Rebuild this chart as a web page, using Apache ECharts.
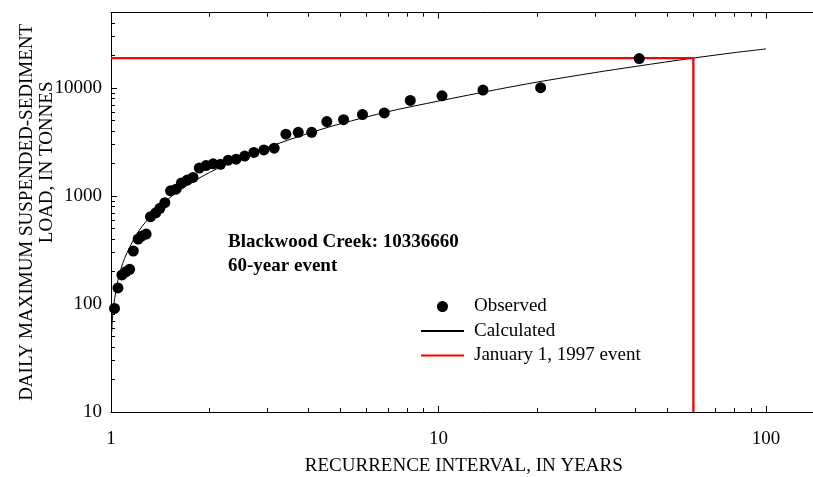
<!DOCTYPE html>
<html>
<head>
<meta charset="utf-8">
<script src="https://cdn.jsdelivr.net/npm/echarts@6/dist/echarts.min.js"></script>
<style>
  html, body { margin: 0; padding: 0; background: #fff; overflow: hidden; }
  /* The plot frame runs past the right edge of the page; the extra width is cropped. */
  #chart { width: 865px; height: 477px; }
</style>
</head>
<body>
<div id="chart"></div>
<script>
// Observed annual maxima: recurrence interval (years) and daily load (tonnes)
const observedYears = [41, 20.5, 13.67, 10.25, 8.2, 6.83, 5.86, 5.13, 4.56, 4.1,
  3.73, 3.42, 3.15, 2.93, 2.73, 2.56, 2.41, 2.28, 2.16, 2.05,
  1.95, 1.86, 1.78, 1.71, 1.64, 1.58, 1.52, 1.46, 1.41, 1.37,
  1.32, 1.28, 1.24, 1.21, 1.17, 1.14, 1.11, 1.08, 1.05, 1.025];
const observedLoad = [18800, 10100, 9600, 8500, 7700, 5900, 5700, 5100, 4900, 3900,
  3900, 3750, 2780, 2680, 2540, 2350, 2200, 2150, 1970, 1990,
  1920, 1820, 1490, 1410, 1320, 1160, 1120, 870, 770, 700,
  645, 445, 425, 400, 310, 210, 199, 186, 141, 91];

// Fitted frequency curve
const calculatedYears = [1.005, 1.01, 1.02, 1.05, 1.1, 1.2, 1.3, 1.5, 1.7, 2, 2.5, 3, 4, 5, 7, 10, 15, 20, 30, 40, 60, 80, 100];
const calculatedLoad = [55, 73, 99, 166, 265, 447, 615, 946, 1245, 1656, 2265, 2820, 3810, 4660, 6050, 7590, 9680, 11380, 13930, 15900, 19000, 21330, 23100];

// January 1, 1997 event: load and its recurrence interval
const eventYears = 60;
const eventLoad = 19000;

// Axis ticks
const xMajorTicks = [1, 10, 100];
const xMinorTicks = [2, 3, 4, 5, 6, 7, 8, 9, 20, 30, 40, 50, 60, 70, 80, 90];
const yMajorTicks = [10, 100, 1000, 10000];
const yMinorTicks = [20, 30, 40, 50, 60, 70, 80, 90, 200, 300, 400, 500, 600, 700, 800, 900,
  2000, 3000, 4000, 5000, 6000, 7000, 8000, 9000, 20000, 30000, 40000];

const xRange = [1, 200];
const yRange = [10, 50000];

const FONT = '"Liberation Serif", "Times New Roman", serif';
const INK = '#000';

function xAxisDef(position, ticks, tickLen, showLine, showLabel, extra) {
  return Object.assign({
    type: 'log', logBase: 10, position: position,
    min: xRange[0], max: xRange[1],
    axisLine: { show: showLine, lineStyle: { color: INK, width: 1 } },
    axisTick: { show: true, inside: true, length: tickLen, customValues: ticks, lineStyle: { color: INK, width: 1 } },
    axisLabel: showLabel ? {
      show: true, customValues: ticks, margin: 18, color: INK,
      fontFamily: FONT, fontSize: 19, formatter: v => String(Math.round(v))
    } : { show: false },
    splitLine: { show: false }, minorTick: { show: false }
  }, extra || {});
}

function yAxisDef(position, ticks, tickLen, showLine, showLabel, extra) {
  return Object.assign({
    type: 'log', logBase: 10, position: position,
    min: yRange[0], max: yRange[1],
    axisLine: { show: showLine, lineStyle: { color: INK, width: 1 } },
    axisTick: { show: true, inside: true, length: tickLen, customValues: ticks, lineStyle: { color: INK, width: 1 } },
    axisLabel: showLabel ? {
      show: true, customValues: ticks, margin: 9, color: INK,
      fontFamily: FONT, fontSize: 19, formatter: v => String(Math.round(v))
    } : { show: false },
    splitLine: { show: false }, minorTick: { show: false }
  }, extra || {});
}

const chart = echarts.init(document.getElementById('chart'), null, { renderer: 'canvas' });

chart.setOption({
  backgroundColor: '#fff',
  animation: false,
  grid: { left: 111, right: 0.4, top: 12.7, bottom: 65, outerBoundsMode: 'none', containLabel: false },
  title: {
    text: 'Blackwood Creek: 10336660\n60-year event',
    left: 228, top: 230, padding: 0,
    textStyle: { fontFamily: FONT, fontWeight: 'bold', fontSize: 19, lineHeight: 24, color: INK }
  },
  legend: {
    orient: 'vertical', left: 420, top: 297, padding: 0,
    itemWidth: 43, itemHeight: 11, itemGap: 5.5,
    textStyle: { fontFamily: FONT, fontSize: 19, lineHeight: 16, color: INK, padding: [0, 0, 0, 5] },
    data: [
      { name: 'Observed' },
      { name: 'Calculated', itemStyle: { opacity: 0 } },
      { name: 'January 1, 1997 event', itemStyle: { opacity: 0 } }
    ]
  },
  xAxis: [
    xAxisDef('bottom', xMajorTicks, 6, true, true, {
      name: 'RECURRENCE INTERVAL, IN YEARS', nameLocation: 'middle', nameGap: 45,
      nameTextStyle: { fontFamily: FONT, fontSize: 19, color: INK, padding: [0, 48, 0, 0] }
    }),
    xAxisDef('bottom', xMinorTicks, 4, false, false),
    xAxisDef('top', xMajorTicks, 6, true, false),
    xAxisDef('top', xMinorTicks, 4, false, false)
  ],
  yAxis: [
    yAxisDef('left', yMajorTicks, 6, true, true, {
      name: 'DAILY MAXIMUM SUSPENDED-SEDIMENT', nameLocation: 'middle', nameGap: 74,
      nameTextStyle: { fontFamily: FONT, fontSize: 19, color: INK }
    }),
    yAxisDef('left', yMinorTicks, 4, false, false, {
      name: 'LOAD, IN TONNES', nameLocation: 'middle', nameGap: 54,
      nameTextStyle: { fontFamily: FONT, fontSize: 19, color: INK, padding: [0, 0, 0, 100] }
    })
  ],
  series: [
    {
      name: 'Calculated', type: 'line', xAxisIndex: 0, yAxisIndex: 0,
      data: calculatedYears.map((x, i) => [x, calculatedLoad[i]]),
      symbol: 'none', smooth: 0.3,
      lineStyle: { color: INK, width: 1 }, itemStyle: { color: INK },
      z: 2
    },
    {
      name: 'January 1, 1997 event', type: 'line', xAxisIndex: 0, yAxisIndex: 0,
      data: [[xRange[0], eventLoad], [eventYears, eventLoad], [eventYears, yRange[0]]],
      symbol: 'none',
      lineStyle: { color: '#ff0000', width: 2.3 }, itemStyle: { color: '#ff0000' },
      z: 3
    },
    {
      name: 'Observed', type: 'scatter', xAxisIndex: 0, yAxisIndex: 0,
      data: observedYears.map((x, i) => [x, observedLoad[i]]),
      symbol: 'circle', symbolSize: 11,
      itemStyle: { color: INK, opacity: 1 },
      z: 4
    }
  ]
});
</script>
</body>
</html>
